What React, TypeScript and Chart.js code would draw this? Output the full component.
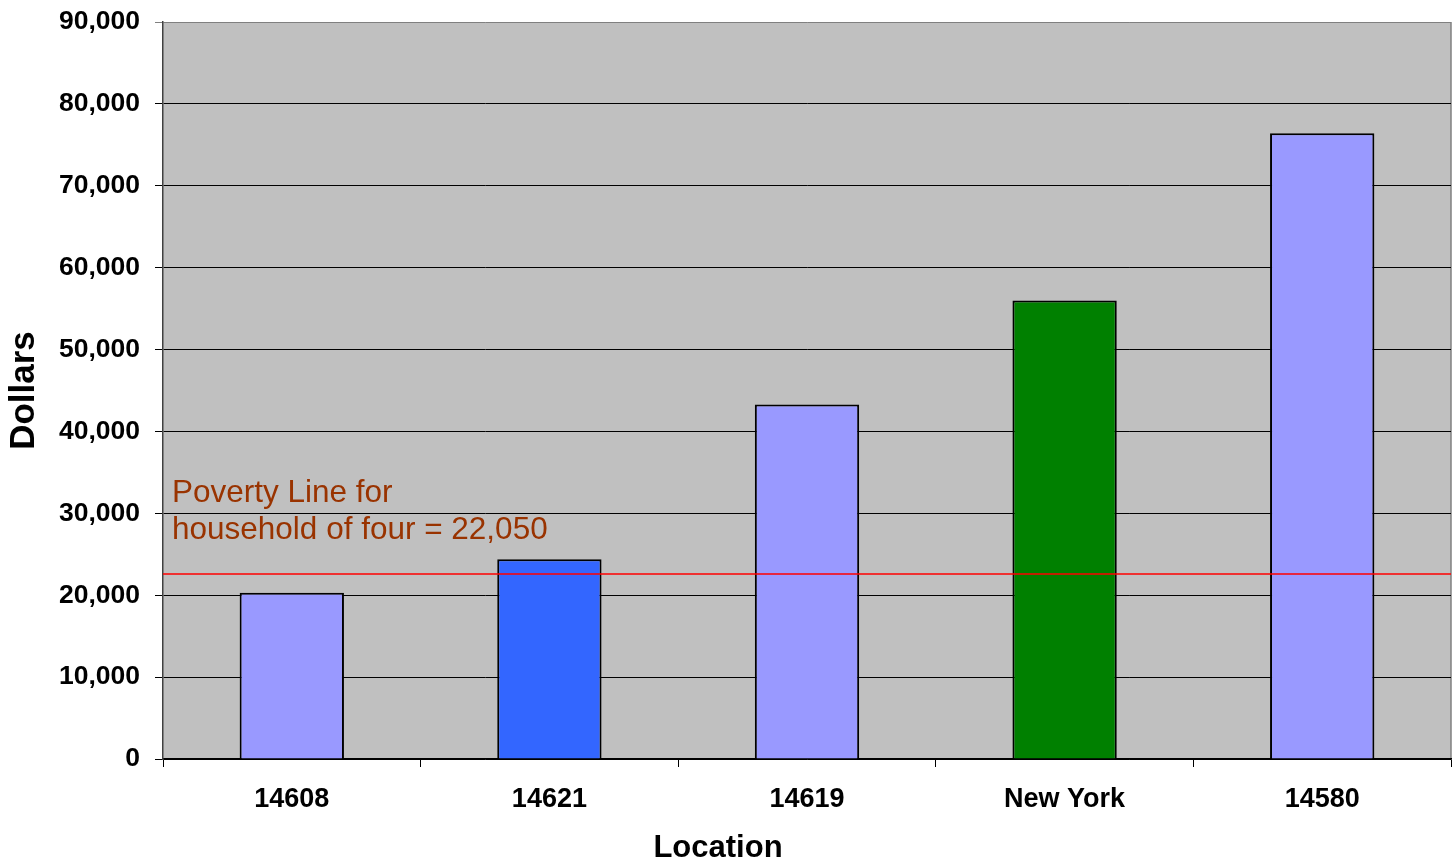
import React, { useEffect, useRef } from "react";
import { Chart, registerables } from "chart.js";

Chart.register(...registerables);

const categories = ["14608", "14621", "14619", "New York", "14580"];
const incomeValues = [20300, 24400, 43300, 56000, 76400];
const barColors = ["#9999FF", "#3366FF", "#9999FF", "#008000", "#9999FF"];
const povertyLineValue = 22600;
const povertyLabelLines = ["Poverty Line for", "household of four = 22,050"];
const xAxisTitle = "Location";
const yAxisTitle = "Dollars";
const yMin = 0;
const yMax = 90000;
const yStep = 10000;

const FONT = "'Liberation Sans', Arial, Helvetica, sans-serif";

const backgroundPlugin = {
  id: "plotBackground",
  beforeDraw(chart: any) {
    const { ctx, chartArea } = chart;
    if (!chartArea) return;
    ctx.save();
    ctx.fillStyle = "#C0C0C0";
    ctx.fillRect(chartArea.left, chartArea.top, chartArea.right - chartArea.left, chartArea.bottom - chartArea.top);
    ctx.strokeStyle = "#808080";
    ctx.lineWidth = 1.5;
    ctx.beginPath();
    ctx.moveTo(chartArea.right, chartArea.top);
    ctx.lineTo(chartArea.right, chartArea.bottom);
    ctx.stroke();
    ctx.restore();
  },
};

const povertyPlugin = {
  id: "povertyLine",
  afterDatasetsDraw(chart: any) {
    const { ctx, chartArea, scales } = chart;
    const y = scales.y.getPixelForValue(povertyLineValue);
    ctx.save();
    ctx.strokeStyle = "#FF0000";
    ctx.lineWidth = 1.5;
    ctx.beginPath();
    ctx.moveTo(chartArea.left, y);
    ctx.lineTo(chartArea.right, y);
    ctx.stroke();
    ctx.fillStyle = "#993300";
    ctx.font = `31.5px ${FONT}`;
    ctx.textBaseline = "middle";
    ctx.textAlign = "left";
    ctx.fillText(povertyLabelLines[0], chartArea.left + 9, y - 81);
    ctx.fillText(povertyLabelLines[1], chartArea.left + 9, y - 44);
    ctx.restore();
  },
  afterDraw(chart: any) {
    const { ctx, width, height } = chart;
    ctx.save();
    ctx.fillStyle = "#000000";
    ctx.font = `bold 31px ${FONT}`;
    ctx.textAlign = "center";
    ctx.textBaseline = "middle";
    ctx.fillText(xAxisTitle, width / 2 - 10, height - 15);
    ctx.restore();
  },
};

export default function App() {
  const canvasRef = useRef<HTMLCanvasElement | null>(null);

  useEffect(() => {
    if (!canvasRef.current) return;
    const chart = new Chart(canvasRef.current, {
      type: "bar",
      data: {
        labels: categories,
        datasets: [
          {
            data: incomeValues,
            backgroundColor: barColors,
            borderColor: "#000000",
            borderWidth: 2,
            barPercentage: 0.405,
            categoryPercentage: 1,
          },
        ],
      },
      options: {
        responsive: false,
        animation: false,
        layout: { padding: { top: 22, right: 5, left: 0, bottom: 0 } },
        plugins: {
          legend: { display: false },
          tooltip: { enabled: false },
        },
        scales: {
          x: {
            offset: true,
            afterFit(scale: any) {
              scale.height = 104;
              scale.paddingLeft = 0;
              scale.paddingRight = 0;
            },
            grid: {
              display: true,
              drawOnChartArea: false,
              drawTicks: true,
              tickLength: 8,
              color: "#000000",
              offset: true,
            },
            border: { display: true, color: "#000000", width: 1.5 },
            ticks: {
              color: "#000000",
              font: { family: FONT, size: 27, weight: "bold" },
              padding: 16,
              maxRotation: 0,
            },
          },
          y: {
            min: yMin,
            max: yMax,
            afterFit(scale: any) {
              scale.width = 163;
              scale.paddingTop = 0;
              scale.paddingBottom = 0;
            },
            grid: {
              color: (c: any) => (c.tick && c.tick.value === yMax ? "#808080" : "#000000"),
              lineWidth: 1,
              tickLength: 8,
            },
            border: { display: true, color: "#404040", width: 1.5 },
            ticks: {
              stepSize: yStep,
              color: "#000000",
              font: { family: FONT, size: 26.5, weight: "bold" },
              padding: 15,
              callback: (v: any) => Number(v).toLocaleString("en-US"),
            },
            title: {
              display: true,
              text: yAxisTitle,
              color: "#000000",
              font: { family: FONT, size: 35, weight: "bold", lineHeight: 1.1 },
              padding: { top: 5, bottom: 0 },
            },
          },
        },
      },
      plugins: [backgroundPlugin, povertyPlugin],
    } as any);
    return () => chart.destroy();
  }, []);

  return (
    <canvas
      ref={canvasRef}
      width={1456}
      height={863}
      style={{ position: "absolute", left: 0, top: 0, display: "block" }}
    />
  );
}
